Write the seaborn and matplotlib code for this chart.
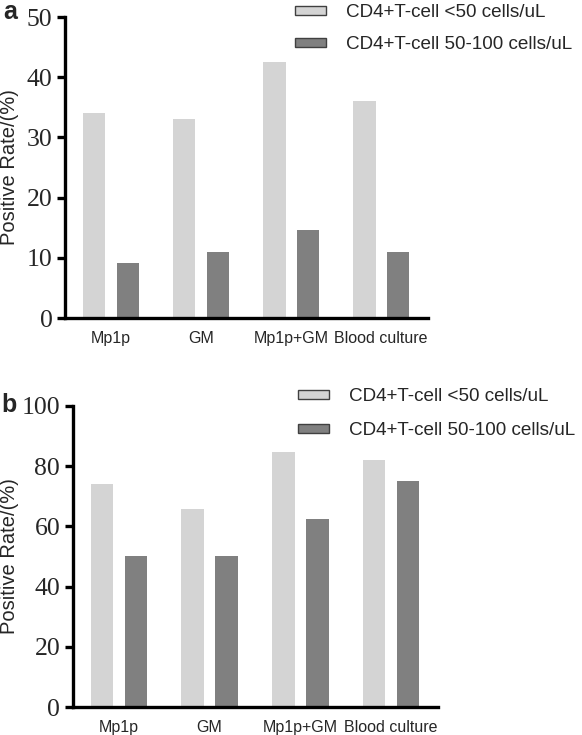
import matplotlib
matplotlib.use("Agg")
import matplotlib.pyplot as plt
from matplotlib.patches import Patch
import pandas as pd
import seaborn as sns


# Data
TESTS = ["Mp1p", "GM", "Mp1p+GM", "Blood culture"]
GROUPS = ["CD4+T-cell <50 cells/uL", "CD4+T-cell 50-100 cells/uL"]

# panel a
A_LOW = [34.0, 33.0, 42.6, 36.0]
A_MID = [9.2, 11.0, 14.7, 11.0]

# panel b
B_LOW = [74.0, 65.7, 84.6, 82.0]
B_MID = [50.0, 50.0, 62.5, 75.0]

LIGHT = "#d4d4d4"
DARK = "#808080"


def to_long(low, mid) -> pd.DataFrame:
    rows = []
    for test, v in zip(TESTS, low):
        rows.append({"test": test, "group": GROUPS[0], "rate": v})
    for test, v in zip(TESTS, mid):
        rows.append({"test": test, "group": GROUPS[1], "rate": v})
    return pd.DataFrame(rows)


def draw_panel(fig, rect, df, ymax, yticks, label, label_xy, legend_xy,
               ylabel_x, spacing):
    ax = fig.add_axes(rect)
    sns.barplot(
        data=df, x="test", y="rate", hue="group", order=TESTS, hue_order=GROUPS,
        palette=[LIGHT, DARK], width=0.75, gap=0.33, legend=False, ax=ax,
        edgecolor="none", linewidth=0,
    )
    ax.set_xlim(-0.51, 3.52)
    ax.set_ylim(0, ymax)
    ax.set_yticks(yticks)
    ax.set_yticklabels([str(t) for t in yticks], fontfamily="Liberation Serif", fontsize=18.5)
    ax.set_xticks(range(len(TESTS)))
    ax.set_xticklabels(TESTS, fontfamily="Liberation Sans", fontsize=11.5)
    ax.tick_params(axis="x", bottom=False, length=0, pad=9)
    ax.tick_params(axis="y", left=True, length=6, width=2.4, direction="out",
                   pad=3, color="black")
    for side in ["top", "right"]:
        ax.spines[side].set_visible(False)
    for side in ["left", "bottom"]:
        ax.spines[side].set_linewidth(2.4)
        ax.spines[side].set_color("black")
    ax.set_xlabel("")
    ax.set_ylabel("Positive Rate/(%)", fontfamily="Liberation Sans", fontsize=14.5)
    ax.yaxis.set_label_coords(ylabel_x, 0.5)
    ax.set_facecolor("white")

    handles = [
        Patch(facecolor=LIGHT, edgecolor="#404040", linewidth=1.0, label=GROUPS[0]),
        Patch(facecolor=DARK, edgecolor="#404040", linewidth=1.0, label=GROUPS[1]),
    ]
    ax.legend(
        handles=handles, loc="upper left", bbox_to_anchor=legend_xy,
        bbox_transform=fig.transFigure, frameon=False, borderpad=0,
        borderaxespad=0, handlelength=1.65, handleheight=0.38,
        handletextpad=1.05, labelspacing=spacing,
        prop={"family": "Liberation Sans", "size": 13.6},
    )

    fig.text(label_xy[0], label_xy[1], label, fontfamily="Liberation Sans",
             fontweight="bold", fontsize=18, ha="left", va="center")
    return ax


def main() -> None:
    sns.set_theme(style="white")
    W, H = 582, 735
    fig = plt.figure(figsize=(W / 100, H / 100), dpi=100)
    fig.patch.set_facecolor("white")

    # panel a
    draw_panel(
        fig, [65 / W, 1 - 318 / H, 363 / W, 301 / H], to_long(A_LOW, A_MID),
        50, [0, 10, 20, 30, 40, 50], "a", (3 / W, 1 - 12 / H),
        (295 / W, 1 - 4 / H), -0.128, 0.82,
    )
    # panel b
    draw_panel(
        fig, [72.7 / W, 1 - 707.3 / H, 365.5 / W, 301.6 / H], to_long(B_LOW, B_MID),
        100, [0, 20, 40, 60, 80, 100], "b", (1 / W, 1 - 405 / H),
        (298 / W, 1 - 388 / H), -0.147, 0.92,
    )

    fig.savefig("out.png", dpi=100)
    plt.close(fig)


if __name__ == "__main__":
    main()
